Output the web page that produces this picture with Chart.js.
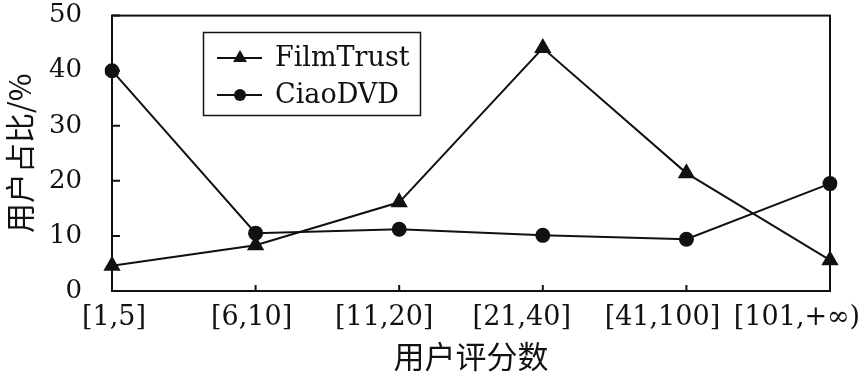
<!DOCTYPE html>
<html lang="zh">

<head>
    <meta charset="UTF-8">
    <title>用户评分数分布</title>
    <style>
        html, body {
            margin: 0;
            padding: 0;
            background: #fff;
        }

        #wrap {
            width: 867px;
            height: 375px;
        }
    </style>
</head>

<body>
    <div id="wrap"><canvas id="chart"></canvas></div>

    <script src="https://cdn.jsdelivr.net/npm/chart.js@4/dist/chart.umd.min.js"></script>
    <script>
        const categories = ["[1,5]", "[6,10]", "[11,20]", "[21,40]", "[41,100]", "[101,+∞)"];
        const filmTrust = [4.6, 8.3, 16.1, 44.1, 21.4, 5.6];
        const ciaoDVD = [40.0, 10.5, 11.2, 10.1, 9.4, 19.5];
        const yTicks = [0, 10, 20, 30, 40, 50];

        const SERIF = "'DejaVu Serif', 'Liberation Serif', serif";
        const CJK = "'Noto Sans CJK SC', 'Noto Sans', sans-serif";

        // label shifts so the x labels sit like in the printed figure
        const xLabelShift = [2, -4, -15, -21, -24, -33];

        function drawMarker(ctx, style, x, y, r) {
            ctx.beginPath();
            if (style === "triangle") {
                ctx.moveTo(x, y - r);
                ctx.lineTo(x + r * 0.866, y + r * 0.5);
                ctx.lineTo(x - r * 0.866, y + r * 0.5);
                ctx.closePath();
            } else {
                ctx.arc(x, y, r, 0, Math.PI * 2);
            }
            ctx.fill();
        }

        const decorations = {
            id: "decorations",
            afterDraw(chart) {
                const ctx = chart.ctx;
                const area = chart.chartArea;
                const xs = chart.scales.x;
                const ys = chart.scales.y;
                ctx.save();
                ctx.strokeStyle = "#111";
                ctx.fillStyle = "#111";

                // frame
                ctx.lineWidth = 2;
                ctx.strokeRect(area.left, area.top, area.right - area.left, area.bottom - area.top);

                // inward ticks
                ctx.beginPath();
                yTicks.forEach(v => {
                    const py = ys.getPixelForValue(v);
                    ctx.moveTo(area.left, py);
                    ctx.lineTo(area.left + 8, py);
                });
                categories.forEach((c, i) => {
                    const px = xs.getPixelForValue(i);
                    ctx.moveTo(px, area.bottom);
                    ctx.lineTo(px, area.bottom - 6);
                });
                ctx.stroke();

                // x tick labels
                ctx.font = "27px " + SERIF;
                ctx.textAlign = "center";
                ctx.textBaseline = "middle";
                categories.forEach((c, i) => {
                    ctx.fillText(c, xs.getPixelForValue(i) + xLabelShift[i], area.bottom + 27);
                });

                // legend box
                ctx.lineWidth = 1.5;
                ctx.strokeRect(203.5, 32.5, 217, 83);
                chart.data.datasets.forEach((ds, i) => {
                    const y = 58 + i * 37;
                    ctx.lineWidth = 2;
                    ctx.beginPath();
                    ctx.moveTo(217, y);
                    ctx.lineTo(262, y);
                    ctx.stroke();
                    drawMarker(ctx, ds.pointStyle, 240, y, ds.pointStyle === "triangle" ? 8 : 6);
                    ctx.textAlign = "left";
                    ctx.fillText(ds.label, 275, y + 1);
                });
                ctx.restore();
            }
        };

        new Chart(document.getElementById("chart"), {
            type: "line",
            data: {
                labels: categories,
                datasets: [
                    {
                        label: "FilmTrust",
                        data: filmTrust,
                        borderColor: "#111",
                        backgroundColor: "#111",
                        borderWidth: 2,
                        pointStyle: "triangle",
                        pointRadius: 10,
                        pointBorderWidth: 0,
                        tension: 0
                    },
                    {
                        label: "CiaoDVD",
                        data: ciaoDVD,
                        borderColor: "#111",
                        backgroundColor: "#111",
                        borderWidth: 2,
                        pointStyle: "circle",
                        pointRadius: 7.5,
                        pointBorderWidth: 0,
                        tension: 0
                    }
                ]
            },
            options: {
                responsive: true,
                maintainAspectRatio: false,
                animation: false,
                events: [],
                layout: {
                    padding: { top: 14, right: 37, left: 0, bottom: 0 }
                },
                plugins: {
                    legend: { display: false },
                    tooltip: { enabled: false }
                },
                scales: {
                    x: {
                        type: "category",
                        offset: false,
                        grid: { display: false, offset: false },
                        border: { display: false },
                        ticks: { display: false },
                        title: {
                            display: true,
                            text: "用户评分数",
                            color: "#111",
                            font: { family: CJK, size: 31 },
                            padding: { top: 0, bottom: 0 }
                        },
                        afterFit(scale) {
                            scale.height = 84;
                        }
                    },
                    y: {
                        min: 0,
                        max: 50,
                        grid: {
                            display: true,
                            drawOnChartArea: false,
                            drawTicks: true,
                            tickLength: 30,
                            tickColor: "rgba(0,0,0,0)"
                        },
                        border: { display: false },
                        ticks: {
                            stepSize: 10,
                            color: "#111",
                            padding: 0,
                            font: { family: SERIF, size: 26 }
                        },
                        title: {
                            display: true,
                            text: "用户占比/%",
                            color: "#111",
                            font: { family: CJK, size: 30 },
                            padding: { top: 2, bottom: 0 }
                        },
                        afterFit(scale) {
                            scale.width = 112;
                        }
                    }
                }
            },
            plugins: [decorations]
        });
    </script>
</body>

</html>
